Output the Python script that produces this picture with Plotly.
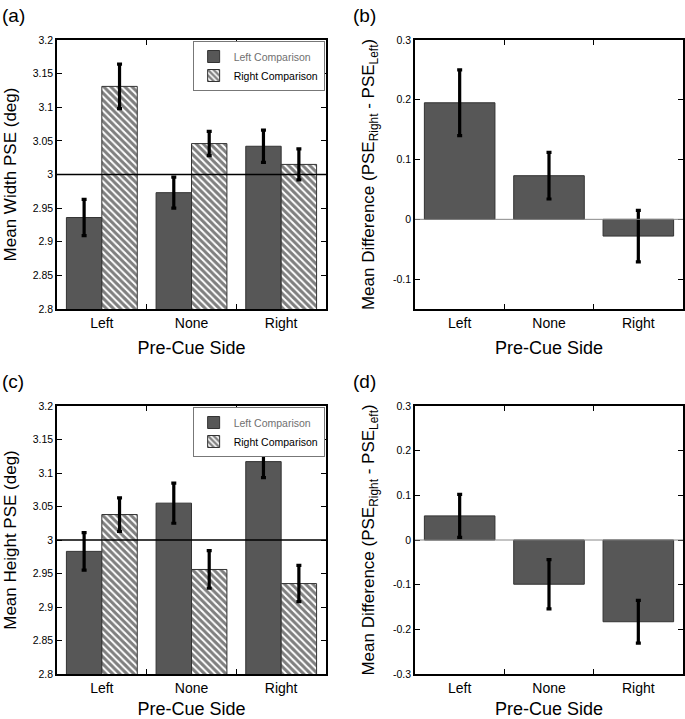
import plotly.graph_objects as go
from plotly.subplots import make_subplots

# data
cues = ['Left', 'None', 'Right']

# (a) width PSE
width_left = [2.936, 2.973, 3.042]
width_left_err = [0.027, 0.023, 0.024]
width_right = [3.131, 3.046, 3.015]
width_right_err = [0.033, 0.018, 0.023]

# (b) width difference
width_diff = [0.195, 0.073, -0.028]
width_diff_err = [0.055, 0.039, 0.043]

# (c) height PSE
height_left = [2.983, 3.055, 3.117]
height_left_err = [0.028, 0.030, 0.024]
height_right = [3.038, 2.956, 2.935]
height_right_err = [0.025, 0.028, 0.027]

# (d) height difference
height_diff = [0.054, -0.099, -0.183]
height_diff_err = [0.048, 0.055, 0.048]

pse_ticks = [2.8, 2.85, 2.9, 2.95, 3, 3.05, 3.1, 3.15, 3.2]
diff_ticks_b = [-0.1, 0, 0.1, 0.2, 0.3]
diff_ticks_d = [-0.3, -0.2, -0.1, 0, 0.1, 0.2, 0.3]

GRAY = '#575757'
FONT = 'Liberation Sans, Arial, sans-serif'

fig = make_subplots(rows=2, cols=2)

W = 685
H = 719
dom_x = [[57 / W, 326 / W], [415 / W, 683 / W]]
dom_y = [[1 - 309 / H, 1 - 40 / H], [1 - 674 / H, 1 - 406 / H]]


def err(vals):
    return dict(type='data', array=vals, visible=True, color='black',
                thickness=3.2, width=2.5)


def pse_panel(row, left, left_err, right, right_err, legend):
    fig.add_trace(go.Bar(x=cues, y=left, name="<span style='color:#707070'>Left Comparison</span>",
                         marker=dict(color=GRAY, line=dict(color='#333333', width=1)),
                         error_y=err(left_err), legend=legend, showlegend=True),
                  row=row, col=1)
    fig.add_trace(go.Bar(x=cues, y=right, name='Right Comparison',
                         marker=dict(color='white', line=dict(color='#333333', width=1),
                                     pattern=dict(shape='\\', fgcolor='black', bgcolor='white',
                                                  size=5, solidity=0.6)),
                         error_y=err(right_err), legend=legend, showlegend=True),
                  row=row, col=1)


def diff_panel(row, vals, errs):
    fig.add_trace(go.Bar(x=cues, y=vals, showlegend=False,
                         marker=dict(color=GRAY, line=dict(color='#333333', width=1)),
                         error_y=err(errs)),
                  row=row, col=2)


pse_panel(1, width_left, width_left_err, width_right, width_right_err, 'legend')
diff_panel(1, width_diff, width_diff_err)
pse_panel(2, height_left, height_left_err, height_right, height_right_err, 'legend2')
diff_panel(2, height_diff, height_diff_err)

axis_common = dict(showline=True, linecolor='black', linewidth=1.6, mirror='ticks',
                   ticks='inside', ticklen=5, tickcolor='black', tickwidth=1.3,
                   showgrid=False, zeroline=False, automargin=False)

for r in (1, 2):
    for c in (1, 2):
        fig.update_xaxes(axis_common, row=r, col=c, domain=dom_x[c - 1],
                         tickson='boundaries', tickfont=dict(size=14, color='black'),
                         title=dict(text='Pre-Cue Side', font=dict(size=18, color='black'),
                                    standoff=12))
        fig.update_yaxes(axis_common, row=r, col=c, domain=dom_y[r - 1],
                         tickfont=dict(size=10.5, color='black'))

fig.update_yaxes(row=1, col=1, range=[2.8, 3.2], tickvals=pse_ticks,
                 title=dict(text='Mean Width PSE (deg)', font=dict(size=17, color='black'), standoff=12))
fig.update_yaxes(row=2, col=1, range=[2.8, 3.2], tickvals=pse_ticks,
                 title=dict(text='Mean Height PSE (deg)', font=dict(size=17, color='black'), standoff=12))
diff_title = 'Mean Difference (PSE<sub>Right</sub> - PSE<sub>Left</sub>)'
fig.update_yaxes(row=1, col=2, range=[-0.15, 0.3], tickvals=diff_ticks_b,
                 ticktext=[str(v) for v in diff_ticks_b],
                 title=dict(text=diff_title, font=dict(size=17, color='black'), standoff=14))
fig.update_yaxes(row=2, col=2, range=[-0.3, 0.3], tickvals=diff_ticks_d,
                 ticktext=[str(v) for v in diff_ticks_d],
                 title=dict(text=diff_title, font=dict(size=17, color='black'), standoff=14))

# reference lines
refs = [('x domain', 'y', 3, 'black', 1.4), ('x3 domain', 'y3', 3, 'black', 1.4),
        ('x2 domain', 'y2', 0, '#888888', 1), ('x4 domain', 'y4', 0, '#888888', 1)]
for xr, yr, yv, col, lw in refs:
    fig.add_shape(type='line', xref=xr, yref=yr, x0=0, x1=1, y0=yv, y1=yv,
                  line=dict(color=col, width=lw), layer='above')

for txt, x, y in [('(a)', 0, 1 - 16 / H), ('(b)', 351 / W, 1 - 16 / H),
                  ('(c)', 0, 1 - 381 / H), ('(d)', 351 / W, 1 - 381 / H)]:
    fig.add_annotation(text=txt, x=x, y=y, xref='paper', yref='paper', xanchor='left',
                       yanchor='middle', showarrow=False, font=dict(size=19, color='black'))

legend_style = dict(x=326 / W - 0.002, xanchor='right', yanchor='top', bgcolor='white',
                    bordercolor='#777777', borderwidth=1, font=dict(size=10.5, color='black'),
                    itemwidth=30, tracegroupgap=0, traceorder='normal')
fig.update_layout(
    width=W, height=H,
    margin=dict(l=0, r=0, t=0, b=0),
    paper_bgcolor='white', plot_bgcolor='white',
    font=dict(family=FONT, color='black'),
    barmode='group', bargap=0.21, bargroupgap=0,
    legend=dict(legend_style, y=1 - 41 / H),
    legend2=dict(legend_style, y=1 - 407 / H),
)

# drop the page's default body margin so the figure sits at the window corner
fig.write_html('out.html', config={'displayModeBar': False},
               post_script="document.body.style.margin='0';")
